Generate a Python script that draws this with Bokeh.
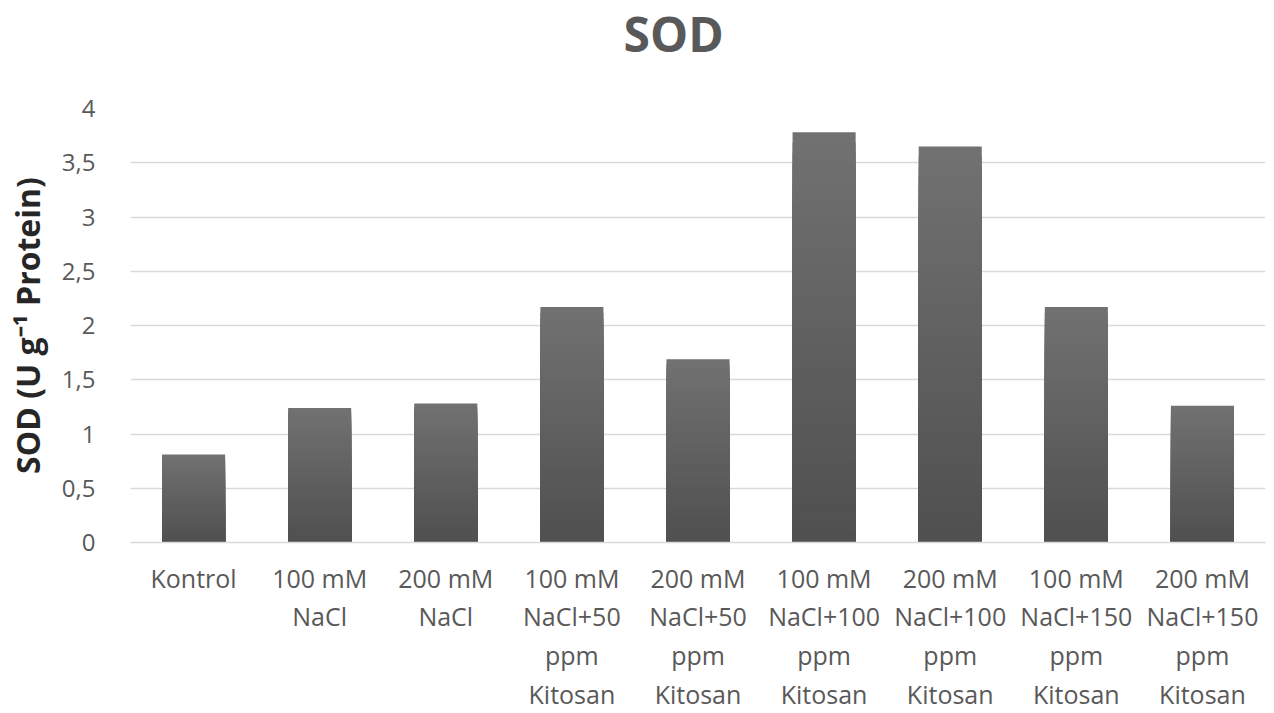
from bokeh.plotting import figure
from bokeh.models import FactorRange, FixedTicker, CustomJSTickFormatter, Title
from bokeh.embed import file_html
from bokeh.resources import INLINE

categories = [
    "Kontrol",
    "100 mM\nNaCl",
    "200 mM\nNaCl",
    "100 mM\nNaCl+50\nppm\nKitosan",
    "200 mM\nNaCl+50\nppm\nKitosan",
    "100 mM\nNaCl+100\nppm\nKitosan",
    "200 mM\nNaCl+100\nppm\nKitosan",
    "100 mM\nNaCl+150\nppm\nKitosan",
    "200 mM\nNaCl+150\nppm\nKitosan",
]
sod_values = [0.81, 1.24, 1.28, 2.17, 1.69, 3.78, 3.65, 2.17, 1.26]
y_ticks = [0, 0.5, 1, 1.5, 2, 2.5, 3, 3.5, 4]
title_text = "SOD"
y_label_text = "SOD (U g⁻¹ Protein)"

FONT = "Open Sans"

p = figure(
    width=1274, height=713,
    x_range=FactorRange(*categories, range_padding=0),
    y_range=(0, 4),
    output_backend="svg", toolbar_location=None,
    title=title_text,
)
p.min_border_left = 130
p.min_border_right = 9
p.min_border_top = 108
p.min_border_bottom = 171
p.outline_line_color = None
p.background_fill_color = "white"
p.border_fill_color = "white"

# gradient bars: light on top, darker at the bottom (nested layers)
N = 40
top_rgb = (0x71, 0x71, 0x71)
bot_rgb = (0x4f, 0x4f, 0x4f)
for k in range(N):
    f = k / N
    c = tuple(int(round(top_rgb[i] + (bot_rgb[i] - top_rgb[i]) * f)) for i in range(3))
    col = "#%02x%02x%02x" % c
    tops = [v * (1 - f) for v in sod_values]
    p.vbar(x=categories, top=tops, bottom=0, width=0.5,
           fill_color=col, line_color=None)

# title
p.title.text_font = FONT
p.title.text_font_size = "48px"
p.title.text_font_style = "bold"
p.title.text_color = "#595959"
p.title.align = "left"
p.title.offset = 493
p.title.standoff = 0
p.title.vertical_align = "top"

# empty spacer between title and frame
p.add_layout(Title(text=" ", text_font=FONT, text_font_size="29px", standoff=0), "above")

# grid
p.xgrid.grid_line_color = None
p.ygrid.grid_line_color = "#d9d9d9"
p.ygrid.grid_line_width = 1.3
p.ygrid.ticker = FixedTicker(ticks=y_ticks)

# y axis
p.yaxis.ticker = FixedTicker(ticks=y_ticks)
p.yaxis.formatter = CustomJSTickFormatter(code="return String(tick).replace('.', ',');")
p.yaxis.axis_line_color = None
p.yaxis.major_tick_line_color = None
p.yaxis.minor_tick_line_color = None
p.yaxis.major_label_text_font = FONT
p.yaxis.major_label_text_font_size = "24px"
p.yaxis.major_label_text_color = "#595959"
p.yaxis.major_label_standoff = 29
p.yaxis.axis_label = y_label_text
p.yaxis.axis_label_text_font = FONT
p.yaxis.axis_label_text_font_size = "32px"
p.yaxis.axis_label_text_font_style = "bold"
p.yaxis.axis_label_text_color = "#262626"
p.yaxis.axis_label_standoff = 10

# x axis
p.xaxis.axis_line_color = "#d9d9d9"
p.xaxis.axis_line_width = 1.5
p.xaxis.major_tick_line_color = None
p.xaxis.minor_tick_line_color = None
p.xaxis.major_label_text_font = FONT
p.xaxis.major_label_text_font_size = "25px"
p.xaxis.major_label_text_color = "#595959"
p.xaxis.major_label_text_line_height = 1.14
p.xaxis.major_label_standoff = 12
p.xaxis.major_label_orientation = "horizontal"

open("out.html", "w").write(file_html(p, INLINE))
